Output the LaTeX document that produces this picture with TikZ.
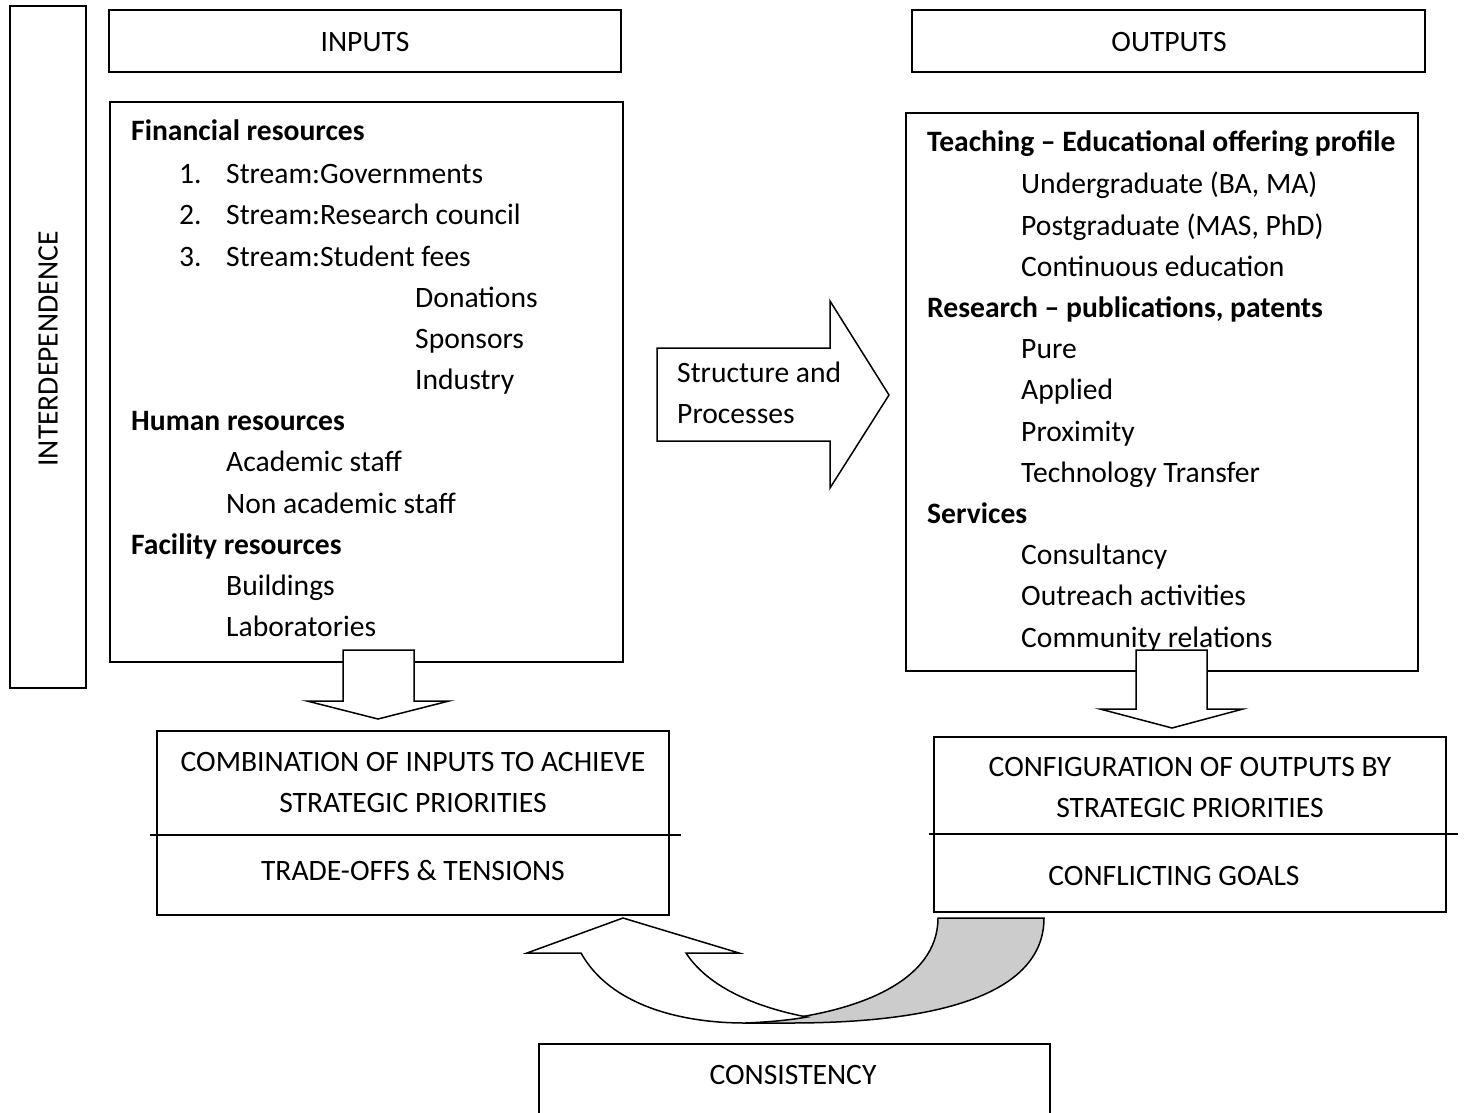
\documentclass[tikz,border=0pt]{standalone}
\usepackage{fontspec}
\setmainfont{Carlito}
\definecolor{backgray}{RGB}{204,204,204}
\newcommand{\fsz}{\fontsize{29.6}{41}\selectfont}
\begin{document}
\begin{tikzpicture}[x=1pt,y=-1pt,
  box/.style={draw,line width=1.5pt},
  blockarrow/.style={draw,fill=white,line width=1.5pt,line join=miter},
  txt/.style={anchor=base west,inner sep=0pt,font=\fsz},
  ctxt/.style={anchor=base,inner sep=0pt,font=\fsz},
  bold/.style={txt,font=\fsz\bfseries}]
\useasboundingbox (0,0) rectangle (1464,1113);
\fill[white] (0,0) rectangle (1464,1113);

% left vertical box
\draw[box] (10,6) rectangle (86,688);
\node[rotate=90,inner sep=0pt,font=\fsz] (inter) at (48,349) {INTERDEPENDENCE};

% header boxes
\draw[box] (109,10) rectangle (621,72);
\node[ctxt] (inputs) at (365,52) {INPUTS};
\draw[box] (912,10) rectangle (1425,72);
\node[ctxt] (outputs) at (1169,52) {OUTPUTS};

% inputs content box
\draw[box] (110,102) rectangle (623,662);
\node[bold] (fin) at (131,141) {Financial resources};
\node[txt] (n1) at (179,183) {1.};
\node[txt] (s1) at (226,183) {Stream:Governments};
\node[txt] (n2) at (179,224) {2.};
\node[txt] (s2) at (226,224) {Stream:Research council};
\node[txt] (n3) at (179,266) {3.};
\node[txt] (s3) at (226,266) {Stream:Student fees};
\node[txt] (don) at (415,307) {Donations};
\node[txt] (spo) at (415,348) {Sponsors};
\node[txt] (ind) at (415,389) {Industry};
\node[bold] (hum) at (131,430) {Human resources};
\node[txt] (aca) at (226,471) {Academic staff};
\node[txt] (non) at (226,513) {Non academic staff};
\node[bold] (fac) at (131,554) {Facility resources};
\node[txt] (bui) at (226,595) {Buildings};
\node[txt] (lab) at (226,636) {Laboratories};

% outputs content box
\draw[box] (906,113) rectangle (1418,671);
\node[bold] (tea) at (927,152) {Teaching – Educational offering profile};
\node[txt] (und) at (1021,193) {Undergraduate (BA, MA)};
\node[txt] (pos) at (1021,235) {Postgraduate (MAS, PhD)};
\node[txt] (con) at (1021,276) {Continuous education};
\node[bold] (res) at (927,317) {Research – publications, patents};
\node[txt] (pur) at (1021,358) {Pure};
\node[txt] (app) at (1021,399) {Applied};
\node[txt] (pro) at (1021,441) {Proximity};
\node[txt] (tec) at (1021,482) {Technology Transfer};
\node[bold] (ser) at (927,523) {Services};
\node[txt] (cons) at (1021,564) {Consultancy};
\node[txt] (out) at (1021,605) {Outreach activities};
\node[txt] (com) at (1021,647) {Community relations};

% structure arrow
\draw[blockarrow] (657,348) -- (830,348) -- (830,301) -- (889,395) -- (830,488) -- (830,441) -- (657,441) -- cycle;
\node[txt] (str1) at (677,382) {Structure and};
\node[txt] (str2) at (677,423) {Processes};

% down arrows
\draw[blockarrow] (343,650) -- (414,650) -- (414,701) -- (449,701) -- (378,719) -- (307,701) -- (343,701) -- cycle;
\draw[blockarrow] (1136,650) -- (1207,650) -- (1207,709) -- (1243,709) -- (1172,728) -- (1100,709) -- (1136,709) -- cycle;

% lower left box
\draw[box] (157,731) rectangle (669,915);
\draw[line width=1.5pt] (150,835) -- (681,835);
\node[ctxt] (comb1) at (413,771) {COMBINATION OF INPUTS TO ACHIEVE};
\node[ctxt] (comb2) at (413,812) {STRATEGIC PRIORITIES};
\node[ctxt] (trade) at (413,880) {TRADE-OFFS \& TENSIONS};

% lower right box
\draw[box] (934,737) rectangle (1446,912);
\draw[line width=1.5pt] (929,834) -- (1458,834);
\node[ctxt] (conf1) at (1190,776) {CONFIGURATION OF OUTPUTS BY};
\node[ctxt] (conf2) at (1190,817) {STRATEGIC PRIORITIES};
\node[ctxt] (confl) at (1174,885) {CONFLICTING GOALS};

% consistency box
\draw[box] (539,1113) -- (539,1044) -- (1050,1044) -- (1050,1113);
\node[ctxt] (consis) at (793,1084) {CONSISTENCY};

% curved arrow: back (gray) part
\draw[line width=1.5pt,fill=backgray] (938,918) -- (1044,918)
  .. controls (1044,990) and (950,1023) .. (790,1023) -- (745,1023)
  .. controls (860,1016) and (938,980) .. (938,918) -- cycle;
% front (white) part
\draw[blockarrow] (581,953) .. controls (610,1005) and (680,1023) .. (745,1023)
  .. controls (770,1022) and (790,1020) .. (807,1017)
  .. controls (770,1010) and (712,993) .. (686,953)
  -- (739,953) -- (623,918) -- (527,953) -- cycle;
\end{tikzpicture}
\end{document}
